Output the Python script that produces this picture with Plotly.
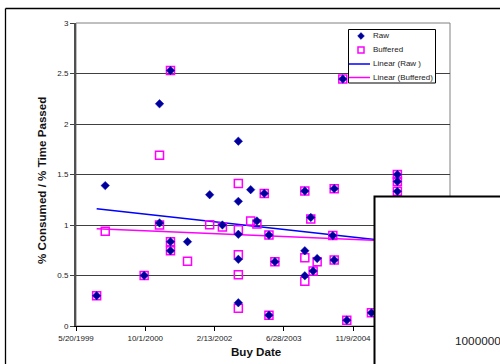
import numpy as np
import pandas as pd
import plotly.graph_objects as go

# ---------------- data ----------------
buy_dates = [
    "1999-10-16", "1999-12-17", "2000-09-23", "2001-01-12", "2001-01-12",
    "2001-04-01", "2001-04-01", "2001-04-01", "2001-08-02", "2002-01-09",
    "2002-04-11", "2002-08-04", "2002-08-04", "2002-08-04", "2002-08-04",
    "2002-08-04", "2002-11-01", "2002-12-16", "2003-02-07", "2003-03-13",
    "2003-03-13", "2003-04-25", "2003-11-27", "2003-11-27", "2003-11-27",
    "2004-01-09", "2004-01-26", "2004-02-24", "2004-06-16", "2004-06-26",
    "2004-06-26", "2004-08-27", "2004-09-25", "2005-03-22", "2005-09-25",
    "2005-09-25", "2005-09-25",
]
raw_values = [
    0.30, 1.39, 0.50, 2.20, 1.02,
    2.53, 0.835, 0.745, 0.835, 1.30,
    1.00, 1.83, 1.234, 0.908, 0.66,
    0.23, 1.35, 1.04, 1.313, 0.90,
    0.107, 0.637, 1.336, 0.745, 0.497,
    1.075, 0.545, 0.668, 0.895, 1.36,
    0.653, 2.445, 0.058, 0.13, 1.50,
    1.43, 1.333,
]
buffered_values = [
    0.30, 0.937, 0.50, 1.69, 1.00,
    2.53, 0.835, 0.745, 0.64, 1.003,
    0.98, 1.41, 0.953, 0.706, 0.508,
    0.175, 1.04, 1.01, 1.313, 0.90,
    0.107, 0.637, 1.336, 0.675, 0.442,
    1.06, 0.545, 0.637, 0.895, 1.36,
    0.653, 2.445, 0.058, 0.13, 1.50,
    1.43, 1.333,
]
# Excel linear trendlines, values at their ends
trend_dates = ["1999-10-16", "2005-09-25"]
raw_trend_values = [1.16, 0.832]
buffered_trend_values = [0.963, 0.840]

x_tick_labels = ["5/20/1999", "10/1/2000", "2/13/2002", "6/28/2003", "11/9/2004"]
y_tick_values = [0, 0.5, 1, 1.5, 2, 2.5, 3]
y_tick_labels = ["0", "0.5", "1", "1.5", "2", "2.5", "3"]
x_range = ["1999-05-20", "2006-10-10"]
overlay_text = "1000000"

# ---------------- helpers ----------------
W, H = 500, 364
L, R, T, B = 76, 450, 23, 326


def xp(px):
    return (px - L) / (R - L)


def yp(py):
    return (B - py) / (B - T)


dates = pd.to_datetime(buy_dates)
tick_vals = pd.to_datetime(x_tick_labels, format="%m/%d/%Y")

RAW_C = "#000099"
BUF_C = "#FF00FF"
FONT = "Liberation Sans, Arial, sans-serif"

fig = go.Figure()

fig.add_trace(go.Scatter(x=pd.to_datetime(trend_dates), y=raw_trend_values, mode="lines",
                         name="Linear (Raw)", line=dict(color="#0000FF", width=1.5),
                         showlegend=False))
fig.add_trace(go.Scatter(x=pd.to_datetime(trend_dates), y=buffered_trend_values, mode="lines",
                         name="Linear (Buffered)", line=dict(color=BUF_C, width=1.5),
                         showlegend=False))
fig.add_trace(go.Scatter(x=dates, y=buffered_values, mode="markers", name="Buffered",
                         marker=dict(symbol="square-open", size=8, color=BUF_C,
                                     line=dict(width=1.5, color=BUF_C)),
                         showlegend=False))
fig.add_trace(go.Scatter(x=dates, y=raw_values, mode="markers", name="Raw",
                         marker=dict(symbol="diamond", size=6.5, color=RAW_C,
                                     line=dict(width=0.5, color="#0000CC")),
                         showlegend=False))

shapes = []
annotations = []

# plot area border (top/right gray)
shapes.append(dict(type="rect", xref="paper", yref="paper", x0=0, x1=1, y0=0, y1=1,
                   line=dict(color="#808080", width=1), layer="below"))
# outer chart border (left + top)
shapes.append(dict(type="line", xref="paper", yref="paper",
                   x0=xp(5.5), x1=xp(5.5), y0=yp(8.5), y1=yp(366), line=dict(color="black", width=1.3)))
shapes.append(dict(type="line", xref="paper", yref="paper",
                   x0=xp(5.5), x1=xp(502), y0=yp(8.5), y1=yp(8.5), line=dict(color="black", width=1.3)))

# legend (drawn to match the original's compact box)
lx0, lx1, ly0, ly1 = 348.5, 435.5, 29.5, 83
shapes.append(dict(type="rect", xref="paper", yref="paper", x0=xp(lx0), x1=xp(lx1),
                   y0=yp(ly1), y1=yp(ly0), line=dict(color="black", width=1),
                   fillcolor="white", layer="above"))
rows = [36, 50, 64, 77.5]
names = ["Raw", "Buffered", "Linear (Raw )", "Linear (Buffered)"]
cx = 361
d = 3.4
shapes.append(dict(type="path", xref="paper", yref="paper",
                   path=f"M {xp(cx)},{yp(rows[0]-d)} L {xp(cx+d)},{yp(rows[0])} L {xp(cx)},{yp(rows[0]+d)} L {xp(cx-d)},{yp(rows[0])} Z",
                   fillcolor=RAW_C, line=dict(color=RAW_C, width=0.5), layer="above"))
s = 3
shapes.append(dict(type="rect", xref="paper", yref="paper", x0=xp(cx - s), x1=xp(cx + s),
                   y0=yp(rows[1] + s), y1=yp(rows[1] - s), line=dict(color=BUF_C, width=1.5),
                   layer="above"))
shapes.append(dict(type="line", xref="paper", yref="paper", x0=xp(349), x1=xp(370),
                   y0=yp(rows[2]), y1=yp(rows[2]), line=dict(color="#0000FF", width=1.5), layer="above"))
shapes.append(dict(type="line", xref="paper", yref="paper", x0=xp(349), x1=xp(370),
                   y0=yp(rows[3]), y1=yp(rows[3]), line=dict(color=BUF_C, width=1.5), layer="above"))
for r_, n_ in zip(rows, names):
    annotations.append(dict(xref="paper", yref="paper", x=xp(370.5), y=yp(r_), text=n_,
                            showarrow=False, xanchor="left", yanchor="middle",
                            font=dict(size=8, color="#222", family=FONT)))

# overlay box (lower right)
shapes.append(dict(type="rect", xref="paper", yref="paper", x0=xp(374.5), x1=xp(520),
                   y0=yp(380), y1=yp(196.5), line=dict(color="black", width=2),
                   fillcolor="white", layer="above"))
annotations.append(dict(xref="paper", yref="paper", x=xp(453), y=yp(341), text=overlay_text,
                        showarrow=False, xanchor="left", yanchor="middle",
                        font=dict(size=11.8, color="#222", family=FONT)))

# axis titles
annotations.append(dict(xref="paper", yref="paper", x=xp(256), y=yp(351), text="<b>Buy Date</b>",
                        showarrow=False, xanchor="center", yanchor="middle",
                        font=dict(size=11.6, color="#111", family=FONT)))
annotations.append(dict(xref="paper", yref="paper", x=xp(41), y=yp(181),
                        text="<b>% Consumed / % Time Passed</b>", textangle=-90,
                        showarrow=False, xanchor="center", yanchor="middle",
                        font=dict(size=11.6, color="#111", family=FONT)))

fig.update_layout(
    width=W, height=H,
    margin=dict(l=L, r=W - R, t=T, b=H - B, pad=0),
    paper_bgcolor="white", plot_bgcolor="white",
    showlegend=False,
    shapes=shapes, annotations=annotations,
    font=dict(family=FONT, size=8, color="#222"),
)
fig.update_xaxes(type="date", range=x_range, tickvals=tick_vals, ticktext=x_tick_labels,
                 showgrid=False, zeroline=False, showline=True, linecolor="black", linewidth=1.2,
                 ticks="outside", ticklen=4, tickcolor="black", tickwidth=1,
                 tickfont=dict(size=8, color="#222", family=FONT))
fig.update_yaxes(range=[0, 3], tickvals=y_tick_values, ticktext=y_tick_labels,
                 showgrid=True, gridcolor="#404040", gridwidth=1, zeroline=False,
                 showline=True, linecolor="#505050", linewidth=2,
                 ticks="outside", ticklen=4, tickcolor="#404040", tickwidth=1,
                 tickfont=dict(size=8, color="#222", family=FONT))

fig.write_html("out.html", config={"displayModeBar": False},
               post_script="document.body.style.margin='0px';")
